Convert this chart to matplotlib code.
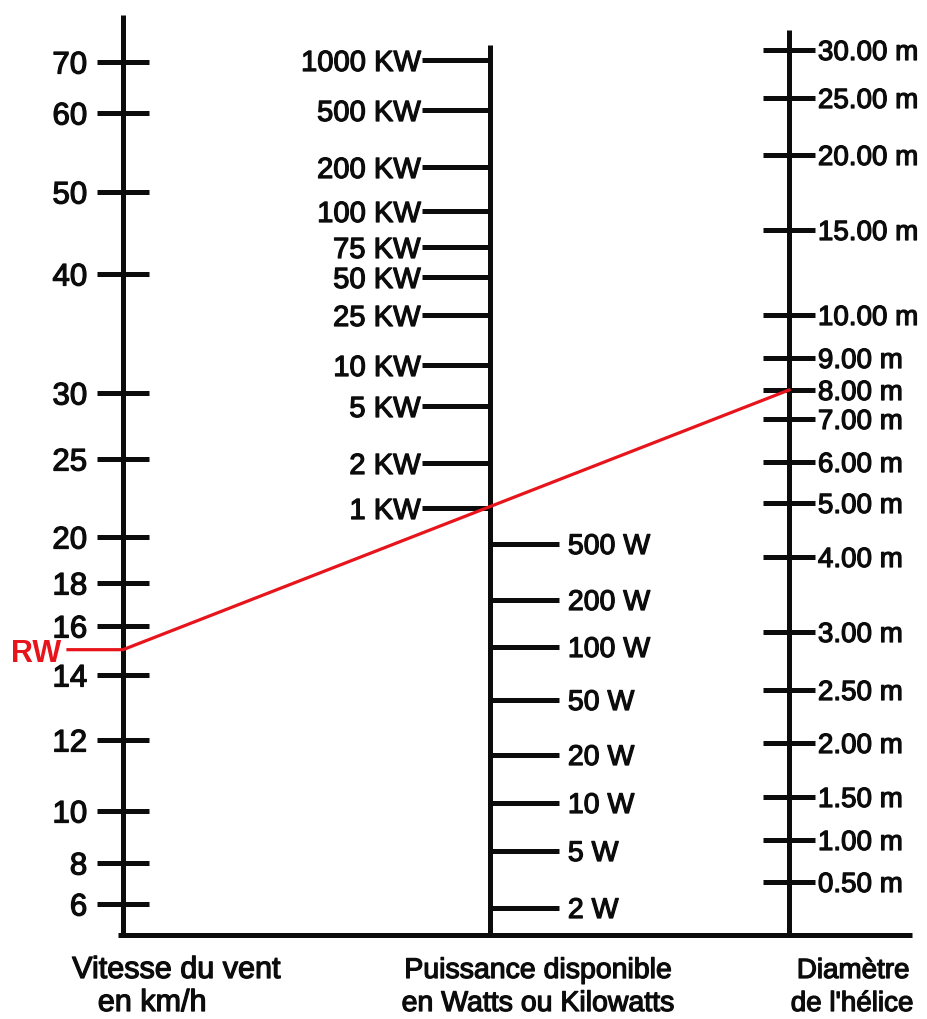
import numpy as np
import matplotlib
matplotlib.use("Agg")
import matplotlib.pyplot as plt
from matplotlib.lines import Line2D
from matplotlib.ticker import NullLocator
import matplotlib.patheffects as pe

plt.rcParams['font.family'] = ['Liberation Sans', 'DejaVu Sans']

# ---------------- data: printed graduations of the nomogram ----------------
wind_speeds = [70, 60, 50, 40, 30, 25, 20, 18, 16, 14, 12, 10, 8, 6]          # km/h
wind_graduation = [873, 822, 743, 661, 542, 476, 398, 352, 309, 260, 195, 124, 72, 31]

power_kw = [1000, 500, 200, 100, 75, 50, 25, 10, 5, 2, 1]                      # KW
power_kw_graduation = [875, 825, 768, 724, 688, 658, 620, 570, 529, 472, 427]
power_w = [500, 200, 100, 50, 20, 10, 5, 2]                                    # W
power_w_graduation = [391, 335, 288, 235, 180, 132, 84, 27]

diameters = [30, 25, 20, 15, 10, 9, 8, 7, 6, 5, 4, 3, 2.5, 2, 1.5, 1.0, 0.5]  # m
diameter_graduation = [885, 837, 780, 705, 620, 577, 545, 516, 473, 432, 378,
                       303, 245, 192, 138, 95, 53]

wind_labels = [str(v) for v in wind_speeds]
power_kw_labels = [f"{v} KW" for v in power_kw]
power_w_labels = [f"{v} W" for v in power_w]
diameter_labels = [f"{v:.2f} m" for v in diameters]

example_label = "RW"
example_wind = 15.0       # km/h
example_diameter = 8.0    # m

axis_titles = [("Vitesse du vent", "en km/h"),
               ("Puissance disponible", "en Watts ou Kilowatts"),
               ("Diamètre", "de l'hélice")]

# ---------------- helpers ----------------
def graduated_scale(values, grads):
    lv = np.log10(np.asarray(values, float))
    g = np.asarray(grads, float)
    o = np.argsort(lv)
    lv, g = lv[o], g[o]
    s0 = (g[1] - g[0]) / (lv[1] - lv[0])
    s1 = (g[-1] - g[-2]) / (lv[-1] - lv[-2])

    def fwd(v):
        with np.errstate(all='ignore'):
            x = np.log10(np.maximum(np.asarray(v, float), 1e-12))
        y = np.interp(x, lv, g)
        y = np.where(x < lv[0], g[0] + (x - lv[0]) * s0, y)
        y = np.where(x > lv[-1], g[-1] + (x - lv[-1]) * s1, y)
        return y

    def inv(y):
        y = np.asarray(y, float)
        x = np.interp(y, g, lv)
        x = np.where(y < g[0], lv[0] + (y - g[0]) / s0, x)
        x = np.where(y > g[-1], lv[-1] + (y - g[-1]) / s1, x)
        return 10 ** x

    return fwd, inv


W, H = 927, 1019
fig = plt.figure(figsize=(W / 100, H / 100), dpi=100)
fig.patch.set_facecolor('white')

BASE_PX, TOP_PX = 935, 15
SPAN = BASE_PX - TOP_PX
LW = 3.6
INK = '#0c0c0c'
FAT = [pe.withStroke(linewidth=0.9, foreground=INK)]


def make_scale_axes(xpx, fwd, inv, top_grad):
    ax = fig.add_axes([xpx / W, (H - BASE_PX) / H, 1e-4, SPAN / H])
    ax.set_yscale('function', functions=(fwd, inv))
    ax.set_ylim(float(inv(0.0)), float(inv(SPAN)))
    ax.patch.set_visible(False)
    ax.set_xticks([])
    for s in ['top', 'bottom', 'right']:
        ax.spines[s].set_visible(False)
    ax.spines['left'].set_linewidth(LW)
    ax.spines['left'].set_color(INK)
    ax.spines['left'].set_capstyle('butt')
    ax.spines['left'].set_bounds(float(inv(0.0)), float(inv(top_grad)))
    ax.yaxis.set_minor_locator(NullLocator())
    return ax


def fatten(ax):
    for t in ax.get_yticklabels():
        t.set_path_effects(FAT)


# wind speed scale
wf, wi = graduated_scale(wind_speeds, wind_graduation)
ax_w = make_scale_axes(123, wf, wi, 920)
ax_w.set_yticks(wind_speeds, labels=wind_labels)
ax_w.yaxis.set_minor_locator(NullLocator())
ax_w.tick_params(axis='y', direction='inout', length=37.5, width=LW, color=INK,
                 pad=7, labelsize=22.5, labelcolor=INK)
fatten(ax_w)

# power scale (all in watts)
p_vals = [v * 1000 for v in power_kw] + power_w
p_grads = power_kw_graduation + power_w_graduation
pf, pi = graduated_scale(p_vals, p_grads)
ax_p = make_scale_axes(490, pf, pi, 890)
ax_p.set_yticks([v * 1000 for v in power_kw], labels=power_kw_labels)
ax_p.yaxis.set_minor_locator(NullLocator())
ax_p.tick_params(axis='y', direction='out', length=49, width=LW, color=INK,
                 pad=1, labelsize=21, labelcolor=INK)
fatten(ax_p)

ax_p2 = ax_p.twinx()
ax_p2.set_yscale('function', functions=(pf, pi))
ax_p2.set_ylim(float(pi(0.0)), float(pi(SPAN)))
ax_p2.patch.set_visible(False)
for s in ax_p2.spines.values():
    s.set_visible(False)
ax_p2.set_yticks(power_w, labels=power_w_labels)
ax_p2.yaxis.set_minor_locator(NullLocator())
ax_p2.tick_params(axis='y', direction='out', length=50, width=LW, color=INK,
                  pad=6, labelsize=20.5, labelcolor=INK)
fatten(ax_p2)

# diameter scale
df, di = graduated_scale(diameters, diameter_graduation)
ax_d = make_scale_axes(789, df, di, 905)
ax_d.yaxis.tick_right()
ax_d.set_yticks(diameters, labels=diameter_labels)
ax_d.yaxis.set_minor_locator(NullLocator())
ax_d.tick_params(axis='y', direction='inout', length=37.5, width=LW, color=INK,
                 pad=2, labelsize=20, labelcolor=INK)
fatten(ax_d)

# baseline joining the scales
yb = (H - BASE_PX) / H
fig.add_artist(Line2D([118 / W, 912 / W], [yb, yb], transform=fig.transFigure,
                      color=INK, lw=LW, solid_capstyle='butt'))

# example isopleth (red line) through the scales
to_fig = fig.transFigure.inverted()
p_left = to_fig.transform(ax_w.get_yaxis_transform().transform((0, example_wind)))
p_right = to_fig.transform(ax_d.get_yaxis_transform().transform((0, example_diameter)))
red = '#e8141b'
fig.add_artist(Line2D([68 / W, p_left[0], p_right[0]],
                      [p_left[1], p_left[1], p_right[1]],
                      transform=fig.transFigure, color=red, lw=2.3,
                      solid_joinstyle='miter', zorder=10))
fig.text(11 / W, p_left[1] - 4 / H, example_label, color=red, fontsize=22,
         fontweight='bold', ha='left', va='center')

# axis titles
title_x = [(176, 152), (538, 538), (853, 852)]
title_size = [22, 20.5, 20]
for (l1, l2), (x1, x2), fs in zip(axis_titles, title_x, title_size):
    fig.text(x1 / W, 1 - 978 / H, l1, ha='center', va='baseline', fontsize=fs,
             color=INK, path_effects=FAT)
    fig.text(x2 / W, 1 - 1011 / H, l2, ha='center', va='baseline', fontsize=fs,
             color=INK, path_effects=FAT)

fig.savefig('out.png', dpi=100, facecolor='white')
